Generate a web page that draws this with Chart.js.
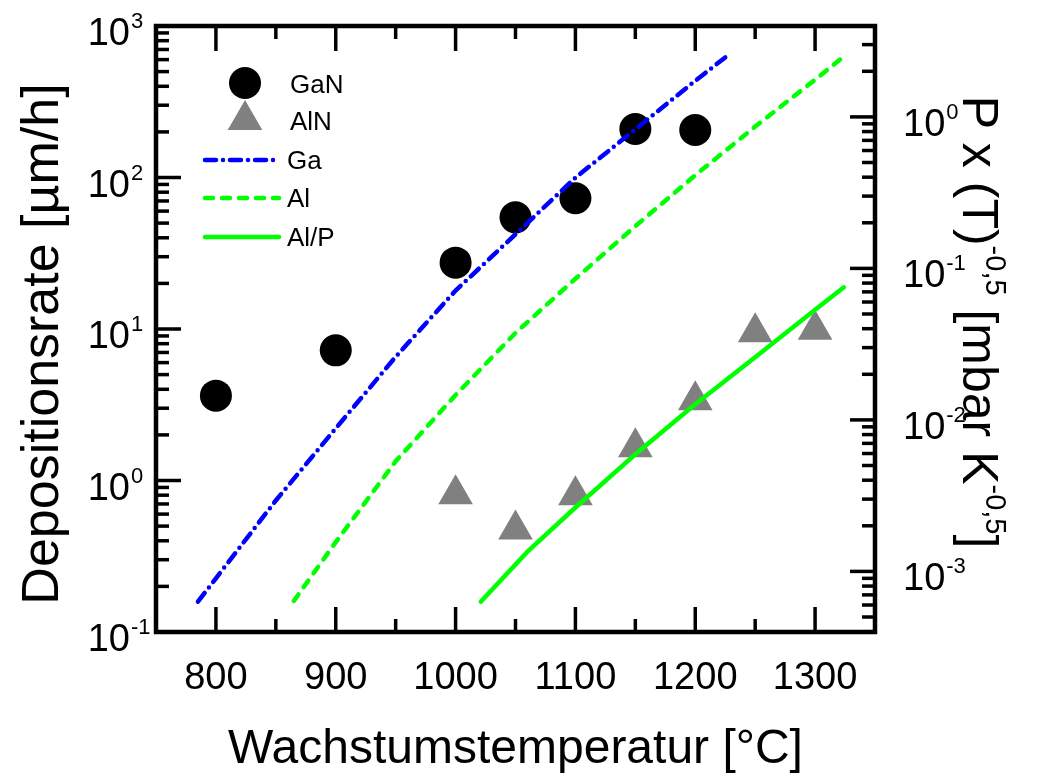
<!DOCTYPE html>
<html>
<head>
<meta charset="utf-8">
<script src="https://cdn.jsdelivr.net/npm/chart.js@4.4.1/dist/chart.umd.min.js"></script>
<style>
  body { margin: 0; background: #fff; }
  canvas { display: block; }
</style>
</head>
<body>
<canvas id="myChart" width="1038" height="773"></canvas>
<script>
// measured growth rates (left axis, um/h)
const ganTemps = [800, 900, 1000, 1050, 1100, 1150, 1200];
const ganRate = [3.63, 7.23, 27.4, 54.6, 72.9, 209, 206];
const alnTemps = [1000, 1050, 1100, 1150, 1200, 1250, 1300];
const alnRate = [0.81, 0.474, 0.80, 1.66, 3.39, 9.5, 9.9];

// vapour pressure curves (right axis, mbar K^-0.5)
const gaTemps = [785, 800, 850, 900, 950, 1000, 1050, 1100, 1150, 1200, 1225];
const gaP = [6.31e-4, 9.0e-4, 2.94e-3, 8.79e-3, 2.61e-2, 7.14e-2, 0.168, 0.397, 0.828, 1.73, 2.47];
const alTemps = [865, 900, 950, 1000, 1050, 1100, 1150, 1200, 1250, 1300, 1325];
const alP = [6.38e-4, 1.56e-3, 5.33e-3, 1.46e-2, 3.75e-2, 8.55e-2, 0.190, 0.412, 0.863, 1.76, 2.54];
const alpTemps = [1021, 1060, 1100, 1150, 1200, 1250, 1300, 1324];
const alpP = [6.31e-4, 1.35e-3, 2.64e-3, 5.93e-3, 1.27e-2, 2.59e-2, 5.33e-2, 7.5e-2];

// axes
const xTicks = [800, 900, 1000, 1100, 1200, 1300];
const leftExps = [-1, 0, 1, 2, 3];
const rightExps = [-3, -2, -1, 0];

const FONT = '"Liberation Sans", Arial, sans-serif';
const GREEN = '#00ff00';
const BLUE = '#0000ff';
const GREY = '#808080';

function pts(xs, ys) {
    return xs.map((x, i) => ({ x: x, y: ys[i] }));
}

function line(ctx, x1, y1, x2, y2) {
    ctx.beginPath();
    ctx.moveTo(x1, y1);
    ctx.lineTo(x2, y2);
    ctx.stroke();
}

// draws "10" + superscript exponent, "10" right edge at x (or left edge if alignLeft)
function pow10(ctx, exp, x, base, alignLeft) {
    ctx.font = '38px ' + FONT;
    const w = ctx.measureText('10').width;
    const x0 = alignLeft ? x : x - w;
    ctx.textAlign = 'left';
    ctx.fillText('10', x0, base);
    ctx.font = '22px ' + FONT;
    ctx.fillText(String(exp), x0 + w + 1, base - 17);
}

// text made of normal and raised parts, centred on 0
function richText(ctx, parts, size, supSize) {
    let total = 0;
    parts.forEach(p => {
        ctx.font = (p.sup ? supSize : size) + 'px ' + FONT;
        p.w = ctx.measureText(p.t).width;
        total += p.w;
    });
    let x = -total / 2;
    ctx.textAlign = 'left';
    parts.forEach(p => {
        ctx.font = (p.sup ? supSize : size) + 'px ' + FONT;
        ctx.fillText(p.t, x, p.sup ? -size * 0.45 : 0);
        x += p.w;
    });
}

const framePlugin = {
    id: 'frame',
    afterDraw(chart) {
        const ctx = chart.ctx;
        const a = chart.chartArea;
        const xs = chart.scales.x, ys = chart.scales.y, y2 = chart.scales.y2;
        ctx.save();
        ctx.strokeStyle = '#000';
        ctx.fillStyle = '#000';
        ctx.lineCap = 'butt';

        // ticks (pointing inward)
        ctx.lineWidth = 3.5;
        for (let t = 800; t < 1350; t += 50) {
            const px = xs.getPixelForValue(t);
            const len = t % 100 === 0 ? 25 : 13;
            line(ctx, px, a.bottom, px, a.bottom - len);
            line(ctx, px, a.top, px, a.top + len);
        }
        for (let k = -1; k < 3; k++) {
            for (let m = 1; m <= 9; m++) {
                const v = m * Math.pow(10, k);
                const py = ys.getPixelForValue(v);
                if (py >= a.bottom - 1) continue;
                line(ctx, a.left, py, a.left + (m === 1 ? 25 : 13), py);
            }
        }
        for (let k = -4; k <= 0; k++) {
            for (let m = 1; m <= 9; m++) {
                const v = m * Math.pow(10, k);
                if (v < y2.min || v > y2.max) continue;
                const py = y2.getPixelForValue(v);
                line(ctx, a.right, py, a.right - (m === 1 ? 25 : 13), py);
            }
        }

        // frame
        ctx.lineWidth = 4.5;
        ctx.strokeRect(a.left, a.top, a.right - a.left, a.bottom - a.top);

        // tick labels
        ctx.textBaseline = 'alphabetic';
        ctx.font = '38px ' + FONT;
        ctx.textAlign = 'center';
        xTicks.forEach(t => ctx.fillText(String(t), xs.getPixelForValue(t), a.bottom + 57));
        leftExps.forEach(e => pow10(ctx, e, 130, ys.getPixelForValue(Math.pow(10, e)) + 19, false));
        rightExps.forEach(e => pow10(ctx, e, 903, y2.getPixelForValue(Math.pow(10, e)) + 19, true));

        // axis titles
        ctx.font = '48px ' + FONT;
        ctx.textAlign = 'center';
        ctx.fillText('Wachstumstemperatur [°C]', (a.left + a.right) / 2, 763);

        ctx.save();
        ctx.translate(58, 344);
        ctx.rotate(-Math.PI / 2);
        ctx.font = '52px ' + FONT;
        ctx.fillText('Depositionsrate [µm/h]', 0, 0);
        ctx.restore();

        ctx.save();
        ctx.translate(963, 322);
        ctx.rotate(Math.PI / 2);
        richText(ctx, [
            { t: 'P x (T)' }, { t: '-0,5', sup: true },
            { t: ' [mbar K' }, { t: '-0,5', sup: true }, { t: ']' }
        ], 50, 29);
        ctx.restore();

        // legend
        ctx.font = '26px ' + FONT;
        ctx.textAlign = 'left';
        ctx.fillStyle = '#000';
        ctx.beginPath();
        ctx.arc(245, 83, 16, 0, Math.PI * 2);
        ctx.fill();
        ctx.fillStyle = GREY;
        ctx.beginPath();
        ctx.moveTo(245, 100);
        ctx.lineTo(245 + 17.3, 130);
        ctx.lineTo(245 - 17.3, 130);
        ctx.closePath();
        ctx.fill();
        ctx.fillStyle = '#000';
        ctx.fillText('GaN', 290, 93);
        ctx.fillText('AlN', 290, 130);

        const legendLines = [
            { label: 'Ga', color: BLUE, dash: [11, 7, 0, 7], y: 160 },
            { label: 'Al', color: GREEN, dash: [8, 9], y: 198 },
            { label: 'Al/P', color: GREEN, dash: [], y: 237 }
        ];
        legendLines.forEach(l => {
            ctx.strokeStyle = l.color;
            ctx.lineWidth = 4.5;
            ctx.lineCap = 'round';
            ctx.setLineDash(l.dash);
            line(ctx, 205, l.y, 279, l.y);
            ctx.setLineDash([]);
            ctx.fillStyle = '#000';
            ctx.fillText(l.label, 287, l.y + 9);
        });
        ctx.restore();
    }
};

const ctx = document.getElementById('myChart');
new Chart(ctx, {
    type: 'scatter',
    data: {
        datasets: [
            {
                label: 'Ga', data: pts(gaTemps, gaP), yAxisID: 'y2',
                showLine: true, pointRadius: 0, borderColor: BLUE, borderWidth: 4.5,
                borderDash: [11, 7, 0, 7], borderCapStyle: 'round', tension: 0
            },
            {
                label: 'Al', data: pts(alTemps, alP), yAxisID: 'y2',
                showLine: true, pointRadius: 0, borderColor: GREEN, borderWidth: 4.5,
                borderDash: [8, 9], borderCapStyle: 'round', tension: 0
            },
            {
                label: 'Al/P', data: pts(alpTemps, alpP), yAxisID: 'y2',
                showLine: true, pointRadius: 0, borderColor: GREEN, borderWidth: 4.5,
                borderCapStyle: 'round', tension: 0
            },
            {
                label: 'GaN', data: pts(ganTemps, ganRate), yAxisID: 'y',
                pointStyle: 'circle', pointRadius: 16, backgroundColor: '#000', borderWidth: 0
            },
            {
                label: 'AlN', data: pts(alnTemps, alnRate), yAxisID: 'y',
                pointStyle: 'triangle', pointRadius: 20, backgroundColor: GREY, borderWidth: 0
            }
        ]
    },
    options: {
        responsive: false,
        animation: false,
        layout: { padding: { left: 156, top: 26, right: 163, bottom: 141 } },
        plugins: { legend: { display: false }, tooltip: { enabled: false } },
        scales: {
            x: { type: 'linear', min: 750, max: 1350, display: false },
            y: { type: 'logarithmic', min: 0.1, max: 1000, display: false },
            y2: { type: 'logarithmic', position: 'right', min: Math.pow(10, -3.4), max: Math.pow(10, 0.6), display: false }
        }
    },
    plugins: [framePlugin]
});
</script>
</body>
</html>
